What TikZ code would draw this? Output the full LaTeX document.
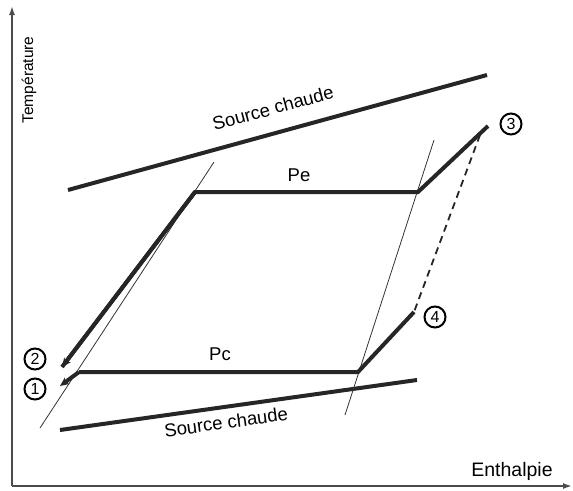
\documentclass[tikz,border=0pt]{standalone}
\usepackage{fontspec}
\setmainfont{Liberation Sans}
\usetikzlibrary{arrows.meta}
\begin{document}
\begin{tikzpicture}[x=1pt,y=-1pt,
  thickline/.style={line width=4pt, black!85},
  thinline/.style={line width=0.8pt, black!80},
  axisline/.style={line width=1.6pt, black!70, -{Latex[length=9pt,width=6pt]}},
  num/.style={circle, draw, line width=2pt, minimum size=21pt, inner sep=0pt, font=\fontsize{16}{16}\selectfont},
  lbl/.style={font=\fontsize{18.5}{20}\selectfont, inner sep=1pt}]
\useasboundingbox (0,0) rectangle (573,490);
% axes
\coordinate (O) at (12,486);
\coordinate (Ytop) at (12,6);
\coordinate (Xend) at (572,486);
\draw[axisline] (O) -- (Ytop);
\draw[axisline] (O) -- (Xend);
\node[lbl, rotate=90, font=\fontsize{15.5}{18}\selectfont] (ty) at (29,80) {Température};
\node[lbl, font=\fontsize{19.5}{22}\selectfont] (tx) at (512,471) {Enthalpie};
% source lines
\coordinate (sh1) at (68,190);
\coordinate (sh2) at (487,75);
\draw[thickline] (sh1) -- (sh2);
\node[lbl, rotate=15.3] (sht) at (273,108) {Source chaude};
\coordinate (sb1) at (60,430);
\coordinate (sb2) at (417,380);
\draw[thickline] (sb1) -- (sb2);
\node[lbl, rotate=8] (sbt) at (226,422) {Source chaude};
% thin saturation lines
\coordinate (tl1) at (40,428);
\coordinate (tl2) at (214,162);
\draw[thinline] (tl1) -- (tl2);
\coordinate (tr1) at (345,415);
\coordinate (tr2) at (434,140);
\draw[thinline] (tr1) -- (tr2);
% cycle
\coordinate (A) at (195,192);
\coordinate (B) at (418,192);
\coordinate (C) at (488,126);
\coordinate (P2) at (62,367);
\coordinate (D) at (79,372);
\coordinate (E) at (358,372);
\coordinate (F) at (414,312);
\coordinate (P1) at (60,386);
\draw[thickline, line join=miter] (P2) -- (A) -- (B) -- (C);
\draw[thickline, -{Stealth[length=9pt,width=8pt]}] (A) -- (P2);
\draw[thickline, line join=miter] (F) -- (E) -- (D);
\draw[thickline, -{Stealth[length=9pt,width=8pt]}] (D) -- (P1);
\draw[line width=1.8pt, black!85, dash pattern=on 7pt off 5pt] (480,135) -- (F);
\node[lbl] (pe) at (299,175) {Pe};
\node[lbl] (pc) at (220,354) {Pc};
\node[num] (n1) at (35,389) {1};
\node[num] (n2) at (35,359) {2};
\node[num] (n3) at (511,124) {3};
\node[num] (n4) at (435,317) {4};
\end{tikzpicture}
\end{document}
